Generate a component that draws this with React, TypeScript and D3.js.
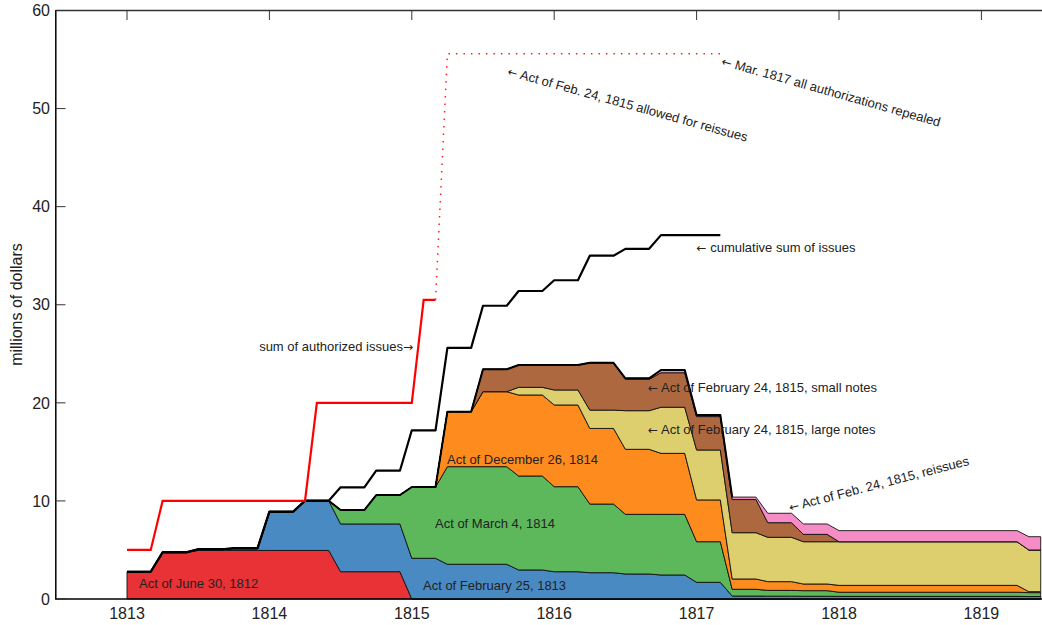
import React from "react";
import * as d3 from "d3";

// ---- data (months counted from January 1813) ----
const stackMonths = [0,2,3,5,6,8,9,11,12,14,15,17,18,20,21,23,24,26,27,29,30,32,33,35,36,38,39,41,42,44,45,47,48,50,51,53,54,56,57,59,60,75,76,77];

const actJune1812 = [2.78,2.78,4.76,4.76,4.95,4.95,4.95,4.95,4.95,4.95,4.95,4.95,2.78,2.78,2.78,2.78,0,0,0,0,0,0,0,0,0,0,0,0,0,0,0,0,0,0,0,0,0,0,0,0,0,0,0,0];
const actFeb1813 = [0,0,0,0,0.12,0.12,0.22,0.22,3.95,3.95,5.07,5.07,4.87,4.87,4.87,4.87,4.15,4.15,3.54,3.54,3.54,3.54,2.96,2.96,2.78,2.78,2.68,2.68,2.55,2.55,2.45,2.45,1.7,1.7,0.3,0.3,0.29,0.29,0.28,0.28,0.27,0.27,0.25,0.25];
const actMar1814 = [0,0,0,0,0,0,0,0,0,0,0,0,1.42,1.42,2.95,2.95,7.27,7.27,9.95,9.95,9.95,9.95,9.58,9.58,8.67,8.67,7.0,7.0,6.08,6.08,6.18,6.18,4.14,4.14,0.69,0.69,0.59,0.59,0.57,0.57,0.42,0.42,0.4,0.4];
const actDec1814 = [0,0,0,0,0,0,0,0,0,0,0,0,0,0,0,0,0,0,5.61,5.61,7.65,7.65,8.26,8.26,8.33,8.33,7.71,7.71,6.63,6.63,6.22,6.22,4.26,4.26,1.05,1.05,0.89,0.89,0.68,0.68,0.7,0.7,0.1,0.1];
const actFeb1815Large = [0,0,0,0,0,0,0,0,0,0,0,0,0,0,0,0,0,0,0,0,0,0,0.78,0.78,1.53,1.53,1.87,1.87,3.94,3.94,4.7,4.7,5.09,5.09,4.72,4.72,4.52,4.52,4.31,4.31,4.45,4.45,4.25,4.25];
const actFeb1815Small = [0,0,0,0,0,0,0,0,0,0,0,0,0,0,0,0,0,0,0,0,2.28,2.28,2.28,2.28,2.55,2.55,4.82,4.82,3.2,3.2,3.52,3.52,3.41,3.41,3.38,3.38,1.49,1.49,0.75,0.75,0,0,0,0];
const actFeb1815Reissues = [0,0,0,0,0,0,0,0,0,0,0,0,0,0,0,0,0,0,0,0,0,0,0,0,0,0,0,0,0.1,0.1,0.28,0.28,0.16,0.16,0.25,0.25,0.96,0.96,1.06,1.06,1.13,1.13,1.35,1.35];

const cumMonths = [0,2,3,5,6,8,9,11,12,14,15,17,18,20,21,23,24,26,27,29,30,32,33,35,36,38,39,41,42,44,45,47,48,50];
const cumIssues = [2.78,2.78,4.76,4.76,5.07,5.07,5.17,5.17,8.9,8.9,10.02,10.02,11.39,11.39,13.08,13.08,17.2,17.2,25.6,25.6,29.9,29.9,31.4,31.4,32.5,32.5,35.0,35.0,35.7,35.7,37.1,37.1,37.1,37.1];

const authMonths = [0,2,3,15,16,24,25,26];
const authValues = [5,5,10,10,20,20,30.5,30.5];
const authDottedMonths = [26,27,50];
const authDottedValues = [30.5,55.6,55.6];

const yearTicks = [1813,1814,1815,1816,1817,1818,1819];
const valueTicks = [0,10,20,30,40,50,60];

const seriesKeys = ["june1812","feb1813","mar1814","dec1814","large1815","small1815","reissue1815"];
const seriesColors = ["#e83236","#4a8ac2","#5cb85b","#fd8b1e","#ddcf6e","#ae683f","#f58cc5"];

const W = 1042, H = 625;
const FONT = "'Liberation Sans', Arial, 'DejaVu Sans', sans-serif";
const ARROW_FONT = "'DejaVu Sans', sans-serif";

function Arrow({ ch }: { ch: string }) {
  return <tspan style={{ fontFamily: ARROW_FONT, fontSize: 12 }}>{ch}</tspan>;
}

export default function App() {
  const x = d3.scaleLinear().domain([1812.5, 1819.5]).range([55.8, 1052.6]);
  const y = d3.scaleLinear().domain([0, 60]).range([599, 10.5]);
  const tx = (m: number) => x(1813 + m / 12);

  const rows = stackMonths.map((m, i) => ({
    m,
    june1812: actJune1812[i],
    feb1813: actFeb1813[i],
    mar1814: actMar1814[i],
    dec1814: actDec1814[i],
    large1815: actFeb1815Large[i],
    small1815: actFeb1815Small[i],
    reissue1815: actFeb1815Reissues[i],
  }));
  const stacked = d3.stack<any>().keys(seriesKeys)(rows);

  const area = d3.area<any>()
    .x((d) => tx(d.data.m))
    .y0((d) => y(d[0]))
    .y1((d) => y(d[1]));

  const top = stacked[stacked.length - 1].filter((d: any) => d.data.m <= 51);
  const topLine = d3.line<any>().x((d) => tx(d.data.m)).y((d) => y(d[1]))(top);

  const lineMV = d3.line<[number, number]>().x((d) => tx(d[0])).y((d) => y(d[1]));
  const cumPath = lineMV(cumMonths.map((m, i) => [m, cumIssues[i]]));
  const authPath = lineMV(authMonths.map((m, i) => [m, authValues[i]]));
  const authDotPath = lineMV(authDottedMonths.map((m, i) => [m, authDottedValues[i]]));

  const txt = { fontFamily: FONT, fontSize: 13, fill: "#222" } as const;

  return (
    <svg width={W} height={H} style={{ position: "absolute", left: 0, top: 0, background: "#fff" }}>
      <defs>
        <clipPath id="plot">
          <rect x={55.8} y={0} width={W - 55.8} height={600} />
        </clipPath>
      </defs>
      <rect x={0} y={0} width={W} height={H} fill="#fff" />
      <g clipPath="url(#plot)">
        {stacked.map((s: any, i: number) => (
          <path key={seriesKeys[i]} d={area(s) || ""} fill={seriesColors[i]} stroke="#111" strokeWidth={0.9} strokeLinejoin="round" />
        ))}
        <path d={topLine || ""} fill="none" stroke="#000" strokeWidth={2} strokeLinejoin="round" />
        <path d={cumPath || ""} fill="none" stroke="#000" strokeWidth={2.2} strokeLinejoin="round" />
        <path d={authPath || ""} fill="none" stroke="#ff0000" strokeWidth={2.2} strokeLinejoin="miter" />
        <path d={authDotPath || ""} fill="none" stroke="#ff2020" strokeWidth={1.5} strokeDasharray="1.5,6" />
      </g>

      {/* frame */}
      <line x1={55.8} x2={W} y1={10.5} y2={10.5} stroke="#333" strokeWidth={1.5} />
      <line x1={55.8} x2={W} y1={599} y2={599} stroke="#000" strokeWidth={1.5} />
      <line x1={55.8} x2={55.8} y1={10} y2={599.7} stroke="#000" strokeWidth={1.5} />
      {yearTicks.map((t) => (
        <g key={t}>
          <line x1={x(t)} x2={x(t)} y1={10.5} y2={20} stroke="#333" strokeWidth={1} />
          <text x={x(t)} y={619} textAnchor="middle" style={{ fontFamily: FONT, fontSize: 16, fill: "#222" }}>{t}</text>
        </g>
      ))}
      {valueTicks.map((v) => (
        <g key={v}>
          <line x1={55.8} x2={65.5} y1={y(v)} y2={y(v)} stroke="#333" strokeWidth={1} />
          <text x={50} y={y(v) + 5.7} textAnchor="end" style={{ fontFamily: FONT, fontSize: 16, fill: "#222" }}>{v}</text>
        </g>
      ))}
      <text transform="translate(22,304.5) rotate(-90)" textAnchor="middle" style={{ fontFamily: FONT, fontSize: 16, fill: "#222" }}>millions of dollars</text>

      {/* annotations */}
      <text x={139} y={587.5} style={txt}>Act of June 30, 1812</text>
      <text x={423} y={589.5} style={txt}>Act of February 25, 1813</text>
      <text x={435} y={528} style={txt}>Act of March 4, 1814</text>
      <text x={447} y={464} style={txt}>Act of December 26, 1814</text>
      <text x={648} y={392} style={txt}><Arrow ch="←" /> Act of February 24, 1815, small notes</text>
      <text x={648} y={433.5} style={txt}><Arrow ch="←" /> Act of February 24, 1815, large notes</text>
      <text x={696.5} y={252} style={txt}><Arrow ch="←" /> cumulative sum of issues</text>
      <text x={413} y={350.5} textAnchor="end" style={txt}>sum of authorized issues<Arrow ch="→" /></text>
      <text transform="translate(508,71) rotate(15.5)" y={4.5} style={txt}><Arrow ch="←" /> Act of Feb. 24, 1815 allowed for reissues</text>
      <text transform="translate(722,60.7) rotate(15.8)" y={4.5} style={txt}><Arrow ch="←" /> Mar. 1817 all authorizations repealed</text>
      <text transform="translate(789,507.5) rotate(-14.7)" y={4.5} style={txt}><Arrow ch="←" /> Act of Feb. 24, 1815, reissues</text>
    </svg>
  );
}
